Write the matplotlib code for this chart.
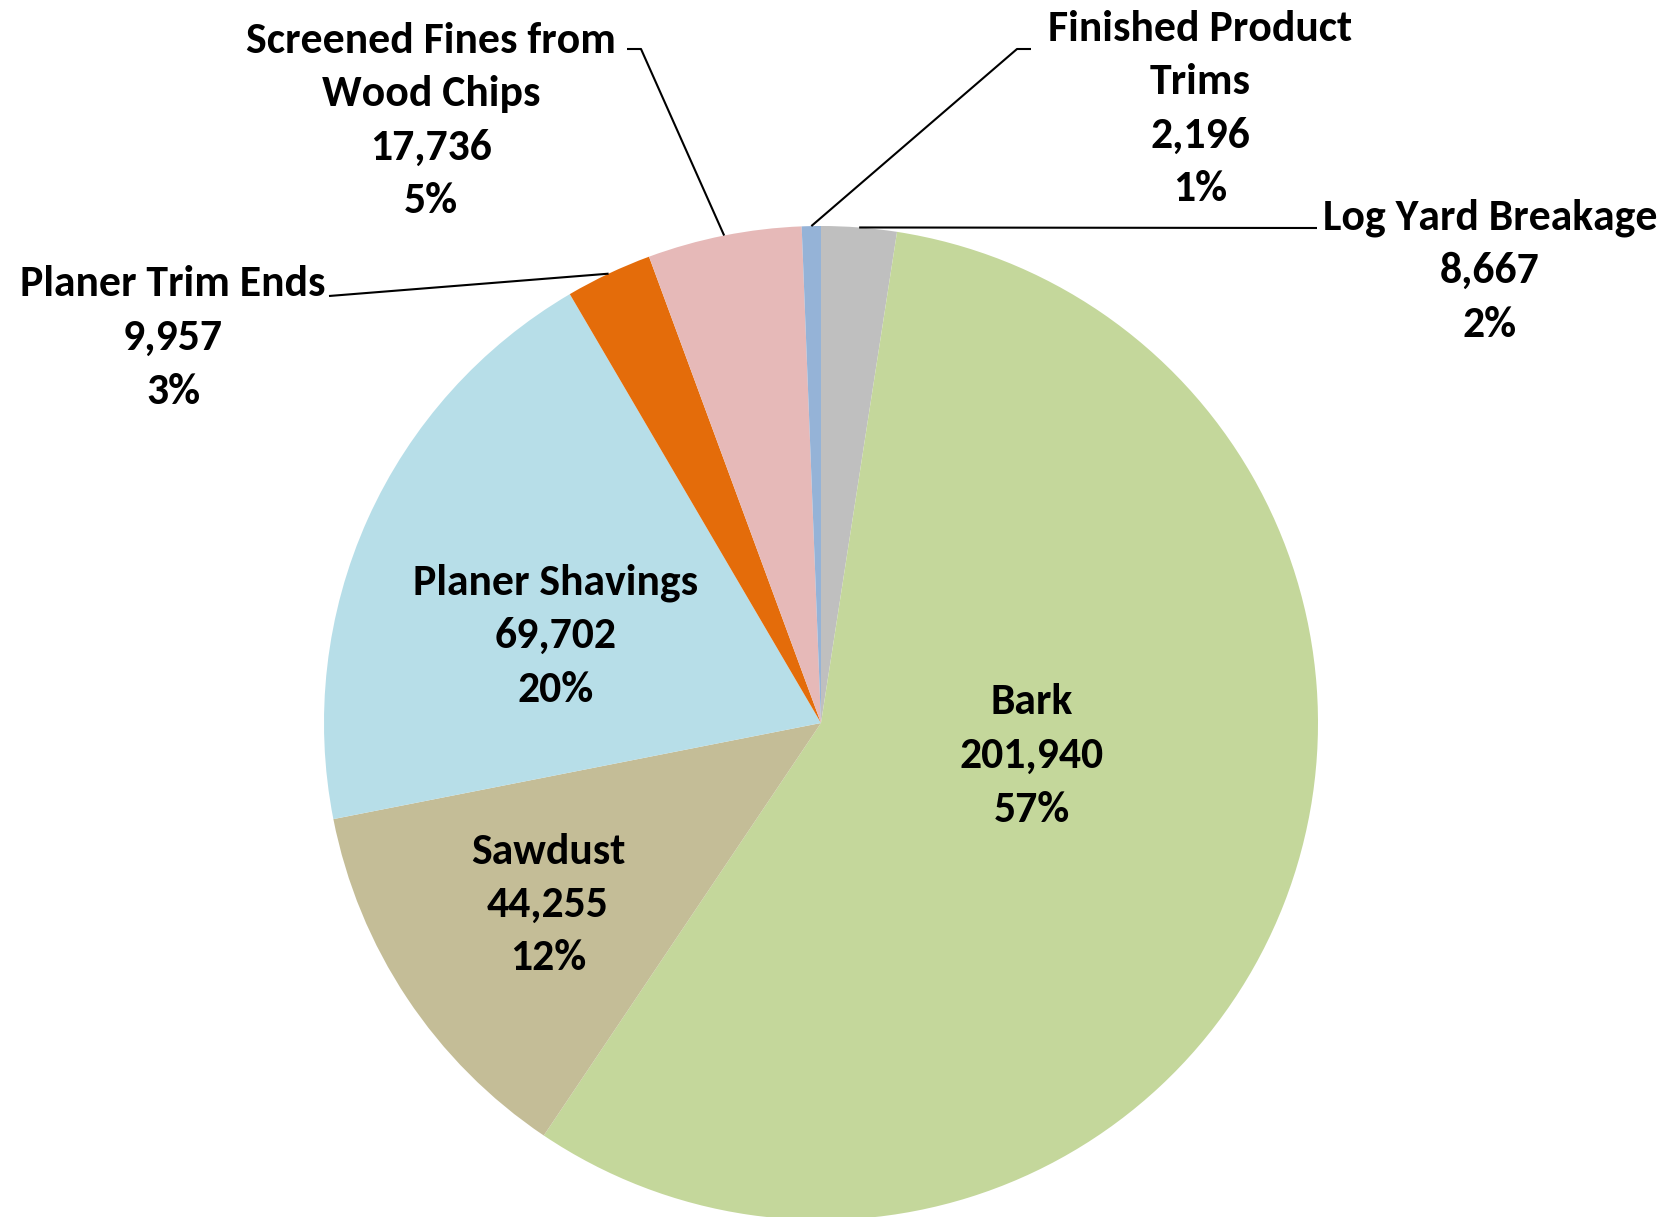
import numpy as np
import matplotlib
matplotlib.use("Agg")
import matplotlib.pyplot as plt
from matplotlib import font_manager

# ---- data ----
categories = ["Log Yard Breakage", "Bark", "Sawdust", "Planer Shavings",
              "Planer Trim Ends", "Screened Fines from\nWood Chips",
              "Finished Product\nTrims"]
values = [8667, 201940, 44255, 69702, 9957, 17736, 2196]
colors = ["#BFBFBF", "#C4D79B", "#C4BD97", "#B7DEE8", "#E46C0A", "#E6B9B8", "#95B3D7"]

# ---- font ----
avail = {f.name for f in font_manager.fontManager.ttflist}
family = "Lato"
for cand in ["Carlito", "Lato"]:
    if cand in avail:
        family = cand
        break
FS = {"Carlito": 31.5, "Lato": 28}[family]
plt.rcParams["font.family"] = [family, "DejaVu Sans"]

W, H = 1666, 1217
fig = plt.figure(figsize=(W / 100, H / 100), dpi=100)
CX, CY, R = 821, 723, 497  # pie centre / radius in pixels (layout)
ax = fig.add_axes([(CX - R) / W, (H - CY - R) / H, 2 * R / W, 2 * R / H])
ax.set_aspect("equal")
ax.axis("off")

wedges, _ = ax.pie(values, colors=colors, startangle=90, counterclock=False,
                   radius=1, wedgeprops=dict(linewidth=0), frame=False)
ax.set_xlim(-1, 1)
ax.set_ylim(-1, 1)

total = sum(values)


def px(x, y):
    return (x - CX) / R, (CY - y) / R


def label(i):
    pct = round(values[i] / total * 100)
    return f"{categories[i]}\n{values[i]:,}\n{pct}%"


LS = 1.5
txt = dict(fontsize=FS, fontweight="bold", ha="center", va="center",
           linespacing=LS, color="black")

# inside labels (pixel layout of label centres)
inside = {1: (1032, 756), 2: (548, 905), 3: (556, 636)}
for i, (x, y) in inside.items():
    ax.text(*px(x, y), label(i), **txt)

# outside labels: text centre, leader elbow points
outside = {
    0: dict(c=(1490, 271), pts=[(1317, 228)]),
    4: dict(c=(173, 338), pts=[(329, 296)]),
    5: dict(c=(431, 121), pts=[(641, 49), (627, 49)]),
    6: dict(c=(1200, 109), pts=[(1017, 49), (1031, 49)]),
}
for i, d in outside.items():
    ax.text(*px(*d["c"]), label(i), **txt)
    w = wedges[i]
    mid = np.deg2rad((w.theta1 + w.theta2) / 2)
    xs = [np.cos(mid)] + [px(*p)[0] for p in d["pts"]]
    ys = [np.sin(mid)] + [px(*p)[1] for p in d["pts"]]
    ax.plot(xs, ys, color="black", lw=1.5, clip_on=False, solid_capstyle="butt")

fig.savefig("out.png", dpi=100, facecolor="white")
